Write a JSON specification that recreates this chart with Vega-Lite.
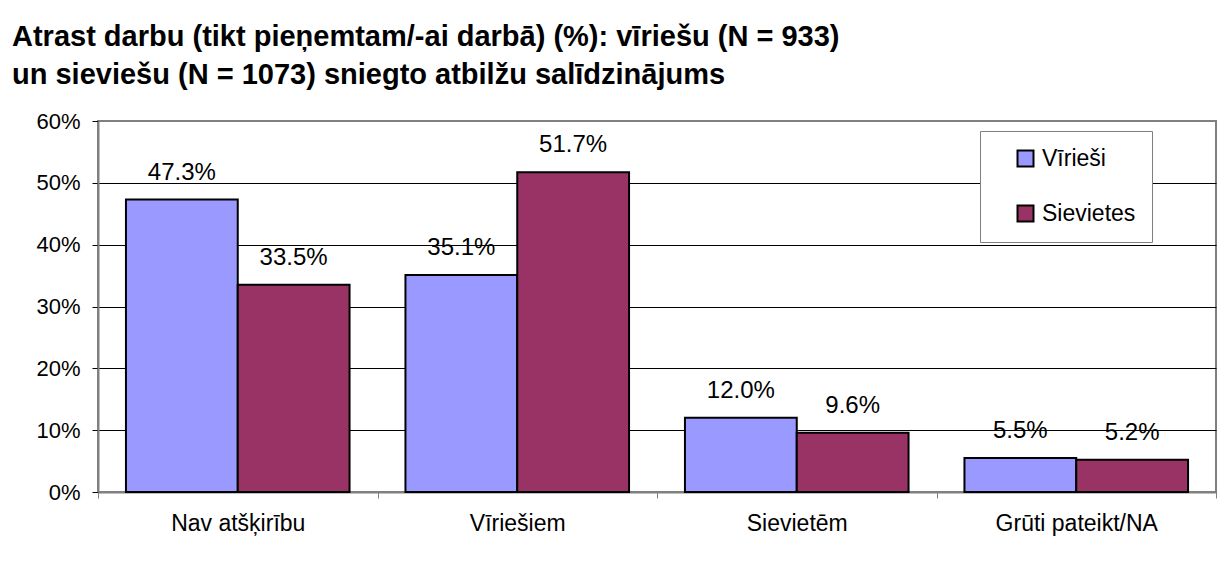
{
  "$schema": "https://vega.github.io/schema/vega-lite/v6.json",
  "width": 1118,
  "height": 371,
  "autosize": {"type": "none"},
  "padding": {"left": 98, "top": 121, "right": 5, "bottom": 73},
  "background": "white",
  "title": {
    "text": ["Atrast darbu (tikt pieņemtam/-ai darbā) (%): vīriešu (N = 933)", "un sieviešu (N = 1073) sniegto atbilžu salīdzinājums"],
    "anchor": "start",
    "frame": "group",
    "dx": -86,
    "offset": 20,
    "fontSize": 29,
    "fontWeight": "bold",
    "font": "Liberation Sans",
    "color": "black",
    "lineHeight": 38
  },
  "data": {
    "values": [
      {"cat": "Nav atšķirību", "gender": "Vīrieši", "value": 0.473},
      {"cat": "Nav atšķirību", "gender": "Sievietes", "value": 0.335},
      {"cat": "Vīriešiem", "gender": "Vīrieši", "value": 0.351},
      {"cat": "Vīriešiem", "gender": "Sievietes", "value": 0.517},
      {"cat": "Sievietēm", "gender": "Vīrieši", "value": 0.120},
      {"cat": "Sievietēm", "gender": "Sievietes", "value": 0.096},
      {"cat": "Grūti pateikt/NA", "gender": "Vīrieši", "value": 0.055},
      {"cat": "Grūti pateikt/NA", "gender": "Sievietes", "value": 0.052}
    ]
  },
  "encoding": {
    "x": {
      "field": "cat", "type": "nominal", "sort": null,
      "scale": {"paddingInner": 0, "paddingOuter": 0},
      "axis": {
        "title": null, "labelAngle": 0, "tickBand": "extent", "ticks": true,
        "tickColor": "#808080", "tickSize": 6, "domainColor": "#808080", "domainWidth": 2,
        "labelFontSize": 23, "labelPadding": 14, "labelColor": "black", "labelFont": "Liberation Sans"
      }
    },
    "xOffset": {
      "field": "gender", "type": "nominal", "sort": ["Vīrieši", "Sievietes"],
      "scale": {"paddingInner": 0, "paddingOuter": 0.25}
    },
    "y": {
      "field": "value", "type": "quantitative",
      "scale": {"domain": [0, 0.6]},
      "axis": {
        "format": ".0%", "values": [0, 0.1, 0.2, 0.3, 0.4, 0.5, 0.6], "title": null,
        "grid": true,
        "gridColor": {"condition": {"test": "datum.value >= 0.6", "value": "#808080"}, "value": "black"},
        "gridWidth": 1,
        "domainColor": "#808080", "domainWidth": 2,
        "tickColor": "black", "tickSize": 6,
        "labelFontSize": 22, "labelFont": "Liberation Sans", "labelColor": "black", "labelPadding": 12
      }
    }
  },
  "layer": [
    {
      "mark": {"type": "bar", "stroke": "black", "strokeWidth": 2},
      "encoding": {
        "color": {
          "field": "gender", "type": "nominal",
          "scale": {"domain": ["Vīrieši", "Sievietes"], "range": ["#9999FF", "#993366"]},
          "legend": {
            "orient": "none", "legendX": 882, "legendY": 10, "title": null,
            "strokeColor": "#808080", "fillColor": "white", "padding": 16,
            "symbolType": "square", "symbolSize": 256, "symbolStrokeColor": "black", "symbolStrokeWidth": 2,
            "labelFontSize": 23, "labelFont": "Liberation Sans", "labelColor": "black",
            "rowPadding": 30, "symbolOffset": 18, "labelOffset": 5
          }
        }
      }
    },
    {
      "mark": {"type": "text", "dy": -20, "baseline": "alphabetic", "fontSize": 24, "font": "Liberation Sans", "color": "black"},
      "encoding": {"text": {"field": "value", "type": "quantitative", "format": ".1%"}}
    }
  ],
  "config": {
    "view": {"stroke": "#808080", "strokeWidth": 2}
  }
}
